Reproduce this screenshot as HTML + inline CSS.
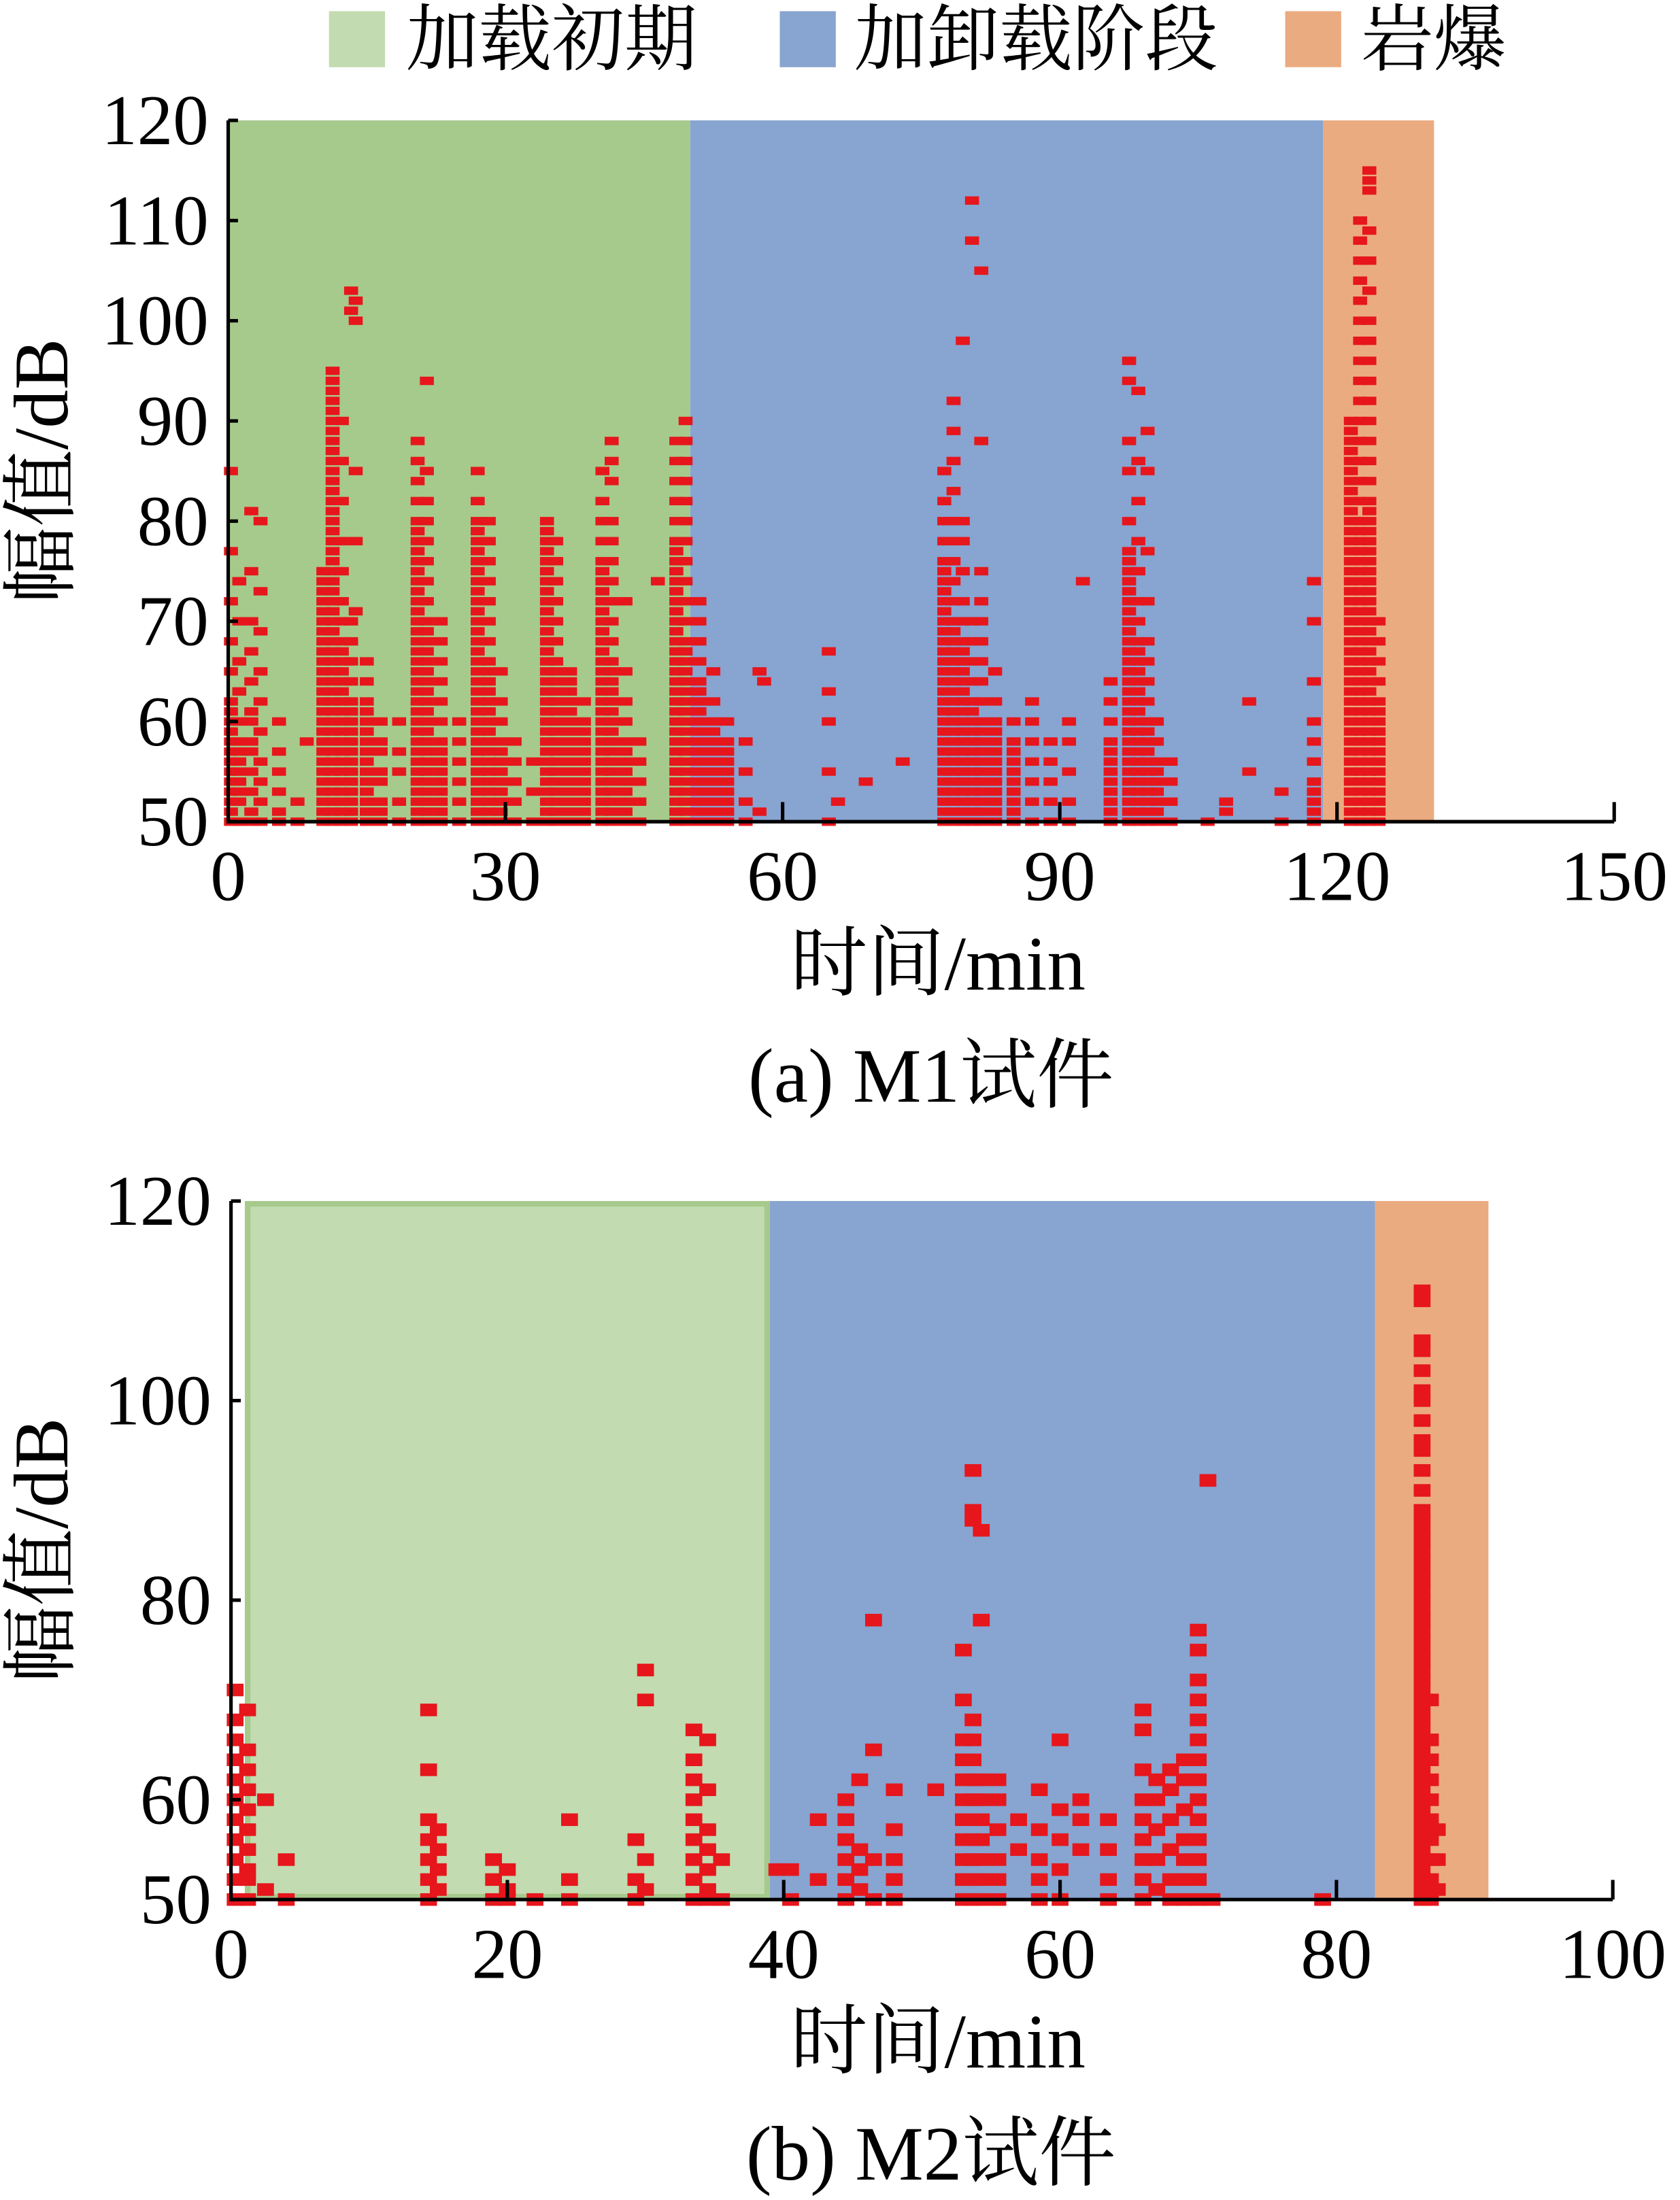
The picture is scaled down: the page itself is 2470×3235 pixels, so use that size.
<!DOCTYPE html>
<html><head><meta charset="utf-8"><style>
html,body{margin:0;padding:0;background:#fff}
svg{display:block}
text{font-family:"Liberation Serif","Noto Serif CJK SC",serif;fill:#000}
</style></head><body>
<svg id="fig" width="2470" height="3235" viewBox="0 0 1200 1571.66" xmlns="http://www.w3.org/2000/svg">
<g>
<rect x="235" y="8" width="40" height="40" fill="#c2dbb0"/>
<text x="290" y="46" font-size="52">加载初期</text>
<rect x="557" y="8" width="40" height="40" fill="#88a4d0"/>
<text x="610" y="46" font-size="52">加卸载阶段</text>
<rect x="918" y="8" width="40" height="40" fill="#ebab80"/>
<text x="972" y="46" font-size="52">岩爆</text>
</g>
<g id="pa"></g>
<g id="pb"></g>
</svg>
<script>
// ---- Panel (a) data ----
const aPhaseBounds = [0, 50, 118.5, 130.5];
const aXTicks = [0, 30, 60, 90, 120, 150];
const aYTicks = [50, 60, 70, 80, 90, 100, 110, 120];
const aTimes = [0.3,1.2,2.5,3.5,5.5,7.5,8.5,10.3,11.3,12.3,13.3,13.8,15,16.5,18.5,20.5,21.5,23,25,27,28.2,29.5,31,33,34.5,35.5,37,38.5,40.5,41.5,43,44.5,46.5,48.5,49.5,51,52.5,54,56,57.5,58,65,66,69,73,77.5,78.5,79.5,80.5,81.5,83,85,87,89,91,92.5,95.5,97.5,98.5,99.5,100.5,102,106,108,110.5,114,117.5,121.5,122.5,123.5,124.5];
const aAmps = [
[50,51,52,53,54,55,56,57,58,59,60,61,62,65,68,72,77,85],
[50,52,53,54,55,56,57,58,60,63,66,70,74],
[50,51,53,55,57,58,60,61,64,67,70,75,81],
[50,52,54,56,59,62,65,69,73,80],
[50,51,53,55,57,60],
[50,52],
[58],
[50,51,52,53,54,55,56,57,58,59,60,61,62,63,64,65,66,67,68,69,70,71,72,73,74,75],
[50,51,52,53,54,55,56,57,58,59,60,61,62,63,64,65,66,67,68,69,70,71,72,73,74,75,76,77,78,79,80,81,82,83,84,85,86,87,88,89,90,91,92,93,94,95],
[50,51,52,53,54,55,56,57,58,59,60,61,62,63,64,65,66,67,68,70,72,75,78,82,86,90],
[50,51,52,53,54,55,56,57,58,59,60,61,62,64,66,68,70,101,103],
[100,102,85,78,71],
[50,51,52,53,54,55,56,57,58,59,60,61,62,64,66],
[50,51,52,54,55,57,58,60],
[50,52,55,57,60],
[50,51,52,53,54,55,56,57,58,59,60,61,62,63,64,65,66,67,68,69,70,71,72,73,74,75,76,77,78,79,80,82,84,86,88],
[50,51,52,53,54,55,56,57,58,59,60,61,62,63,64,65,66,67,68,69,70,72,74,76,78,80,82,85,94],
[50,51,52,53,54,55,56,57,58,60,62,64,66,68,70],
[50,52,54,56,58,60],
[50,51,52,53,54,55,56,57,58,59,60,61,62,63,64,65,66,67,68,69,70,71,72,73,74,75,76,77,78,79,80,82,85],
[50,51,52,53,54,55,56,57,58,59,60,61,62,63,64,65,66,68,70,72,74,76,78,80],
[50,51,52,53,54,55,56,57,58,60,62,65],
[50,52,54,56,58],
[50,53,56],
[50,51,52,53,54,55,56,57,58,59,60,61,62,63,64,65,66,67,68,69,70,71,72,73,74,75,76,77,78,79,80],
[50,51,52,53,54,55,56,57,58,59,60,61,62,63,64,65,66,68,70,72,74,76,78],
[50,51,52,53,54,55,56,57,58,59,60,61,62,63,64,65],
[50,51,52,53,54,55,56,57,58,59,60,62],
[50,51,52,53,54,55,56,57,58,59,60,61,62,63,64,65,66,67,68,69,70,71,72,73,74,75,76,78,80,82,85],
[50,51,52,53,54,55,56,57,58,59,60,61,62,63,64,65,66,68,70,72,74,76,78,80,84,86,88],
[50,51,52,53,54,55,56,57,58,60,62,65,72],
[50,52,54,56,58],
[74],
[50,51,52,53,54,55,56,57,58,59,60,61,62,63,64,65,66,67,68,69,70,71,72,73,74,75,76,77,78,80,82,84,86,88],
[50,51,52,53,54,55,56,57,58,59,60,61,62,63,64,65,66,67,68,70,72,74,76,78,80,82,84,86,88,90],
[50,51,52,53,54,55,56,57,58,59,60,61,62,63,64,66,68,70,72],
[50,51,52,53,54,55,56,57,58,59,60,62,65],
[50,51,52,53,54,55,56,57,58,60],
[50,52,55,58],
[51,65],
[64],
[50,55,60,63,67],
[52],
[54],
[56],
[50,51,52,53,54,55,56,57,58,59,60,61,62,63,64,65,66,67,68,69,70,71,72,73,74,75,76,78,80,82,85],
[50,51,52,53,54,55,56,57,58,59,60,61,62,63,64,65,66,67,68,69,70,72,74,76,78,80,83,86,89,92],
[50,51,52,53,54,55,56,57,58,59,60,61,62,63,64,65,66,67,68,70,72,75,78,80,98],
[50,51,52,53,54,55,56,57,58,59,60,61,62,64,66,68,70,108,112],
[50,51,52,53,54,55,56,57,58,59,60,62,64,66,68,70,72,75,88,105],
[50,51,52,53,54,55,56,57,58,59,60,62,65],
[50,51,52,53,54,55,56,57,58,60],
[50,52,54,56,58,60,62],
[50,52,54,56,58],
[50,52,55,58,60],
[74],
[50,51,52,53,54,55,56,57,58,60,62,64],
[50,51,52,53,54,55,56,57,58,59,60,61,62,63,64,65,66,67,68,69,70,71,72,73,74,75,76,77,80,85,88,94,96],
[50,51,52,53,54,55,56,57,58,59,60,61,62,63,64,65,66,67,68,70,72,75,78,82,86,93],
[50,51,52,53,54,55,56,57,58,59,60,62,64,66,68,72,77,85,89],
[50,51,52,53,54,55,56,58,60],
[50,52,54,56],
[50],
[51,52],
[62,55],
[50,53],
[50,51,52,53,54,56,58,60,64,70,74],
[50,51,52,53,54,55,56,57,58,59,60,61,62,63,64,65,66,67,68,69,70,71,72,73,74,75,76,77,78,79,80,81,82,83,84,85,86,87,88,89,90],
[50,51,52,53,54,55,56,57,58,59,60,61,62,63,64,65,66,67,68,69,70,71,72,73,74,75,76,77,78,79,80,82,84,86,88,90,92,94,96,98,100,102,104,106,108,110],
[50,51,52,53,54,55,56,57,58,59,60,61,62,63,64,65,66,67,68,69,70,71,72,73,74,75,76,77,78,79,80,81,82,84,86,88,90,92,94,96,98,100,103,106,109,113,114,115],
[50,51,52,53,54,55,56,57,58,59,60,61,62,64,66,68,70]
];
// ---- Panel (b) data ----
const bPhaseBounds = [1, 39, 82.8, 91];
const bXTicks = [0, 20, 40, 60, 80, 100];
const bYTicks = [50, 60, 80, 100, 120];
const bTimes = [0.3,1.2,2.5,4,14.3,15,19,20,22,24.5,29.3,30,33.5,34.5,35.5,39.5,40.5,42.5,44.5,45.5,46.5,48,51,53,53.7,54.3,55.5,57,58.5,60,61.5,63.5,66,67,68,69,70,70.7,71,79,86.2,86.8,87.3];
const bAmps = [
[50,52,54,56,58,60,62,64,66,68,71],
[50,52,53,55,57,59,61,63,65,69],
[60,51],[54,50],
[50,52,54,56,58,63,69],[51,53,55,57],
[50,52,54],[50,51,53],[50],[50,52,58],
[50,52,56],[51,54,70,73],
[50,52,54,56,58,60,62,64,67],[50,51,53,55,57,61,66],[50,54],
[53],[53,50],[58,52],
[50,52,54,56,58,60],[51,53,55,62],[78,65,54,50],[50,52,54,57,61],[61],
[50,52,54,56,58,60,62,64,66,70,75],
[50,52,54,56,58,60,62,64,66,68,88,89,93],
[50,52,54,56,58,60,62,78,87],
[50,52,54,57,60,62],[55,58],[50,52,54,57,61],[50,53,56,59,66],[55,58,60],[50,52,55,58],
[50,52,54,56,58,60,63,67,69],[51,54,57,60,62],[50,52,55,58,61,63],[50,52,54,56,59,62,64],
[50,52,54,56,58,60,62,64,66,68,70,72,75,77],[92],[50],[50],
[50,51,52,53,54,55,56,57,58,59,60,61,62,63,64,65,66,67,68,69,70,71,72,73,74,75,76,77,78,79,80,81,82,83,84,85,86,87,88,89,91,93,95,96,98,100,101,103,105,106,110,111],
[50,52,54,56,58,60,62,64,66,70],
[51,54,57]
];

const NS = "http://www.w3.org/2000/svg";
function mk(tag, attrs, parent){const e=document.createElementNS(NS,tag);for(const k in attrs)e.setAttribute(k,attrs[k]);parent.appendChild(e);return e;}

function drawPanel(g, cfg){
  const xS = t => cfg.x0 + (t - cfg.xmin)/(cfg.xmax-cfg.xmin)*(cfg.x1-cfg.x0);
  const yS = a => cfg.y0 - (a - cfg.ymin)/(cfg.ymax-cfg.ymin)*(cfg.y0-cfg.y1);
  const colors = cfg.colors;
  for(let i=0;i<3;i++){
    const r = mk('rect',{x:xS(cfg.bounds[i]),y:cfg.y1,width:xS(cfg.bounds[i+1])-xS(cfg.bounds[i]),height:cfg.y0-cfg.y1,fill:colors[i]},g);
    
    
    if(i===0 && cfg.greenBorder){ r.setAttribute('stroke','#a6ca8c'); r.setAttribute('stroke-width','4'); r.setAttribute('x',xS(cfg.bounds[0])+2); r.setAttribute('y',cfg.y1+2); r.setAttribute('width',xS(cfg.bounds[1])-xS(cfg.bounds[0])-4); r.setAttribute('height',cfg.y0-cfg.y1-4);}
  }
  const pts = mk('g',{},g);
  
  
  cfg.times.forEach((t,i)=>{
    cfg.amps[i].forEach(a=>{
      const r = mk('rect',{x:xS(t)-cfg.mw/2,y:yS(a)-cfg.mh/2,width:cfg.mw,height:cfg.mh,fill:'#e6161c'},pts);
      
      
    });
  });
  const ax = mk('path',{d:`M${cfg.x0},${cfg.y1} V${cfg.y0} H${cfg.x1}`,stroke:'#000','stroke-width':2.5,fill:'none'},g);
  
  
  cfg.yTicks.forEach(v=>{
    const y=yS(v);
    const tk = mk('line',{x1:cfg.x0,x2:cfg.x0+7,y1:y,y2:y,stroke:'#000','stroke-width':2.5},g);
    
    
    const tx = mk('text',{x:cfg.x0-14,y:y+17,'font-size':51,'text-anchor':'end'},g);
    tx.textContent=v;
    
    
  });
  cfg.xTicks.forEach(v=>{
    const x=xS(v);
    const tk = mk('line',{x1:x,x2:x,y1:cfg.y0,y2:cfg.y0-14,stroke:'#000','stroke-width':2.5},g);
    
    
    const tx = mk('text',{x:x,y:cfg.y0+56,'font-size':51,'text-anchor':'middle'},g);
    tx.textContent=v;
    
    
  });
  const xt = mk('text',{x:670,y:cfg.y0+120,'font-size':55,'text-anchor':'middle'},g);
  xt.textContent='时间/min';
  
  
  const yt = mk('text',{x:0,y:0,'font-size':55,'text-anchor':'middle',transform:`translate(48,${(cfg.y0+cfg.y1)/2}) rotate(-90)`},g);
  yt.textContent='幅值/dB';
  
  
  const cap = mk('text',{x:665,y:cfg.y0+200,'font-size':55,'text-anchor':'middle'},g);
  cap.textContent=cfg.caption;
  
  
}
const phaseColorsA = ['#a6ca8c','#88a4d0','#ebab80'];
const phaseColorsB = ['#c2dbb0','#88a4d0','#ebab80'];
drawPanel(document.getElementById('pa'),{x0:163,x1:1153,xmin:0,xmax:150,y0:587,y1:86,ymin:50,ymax:120,bounds:aPhaseBounds,colors:phaseColorsA,times:aTimes,amps:aAmps,xTicks:aXTicks,yTicks:aYTicks,caption:'(a)  M1试件',mw:10,mh:6});
drawPanel(document.getElementById('pb'),{x0:165,x1:1152,xmin:0,xmax:100,y0:1357,y1:858,ymin:50,ymax:120,bounds:bPhaseBounds,colors:phaseColorsB,greenBorder:true,times:bTimes,amps:bAmps,xTicks:bXTicks,yTicks:bYTicks,caption:'(b)  M2试件',mw:12,mh:9});
</script>
</body></html>
